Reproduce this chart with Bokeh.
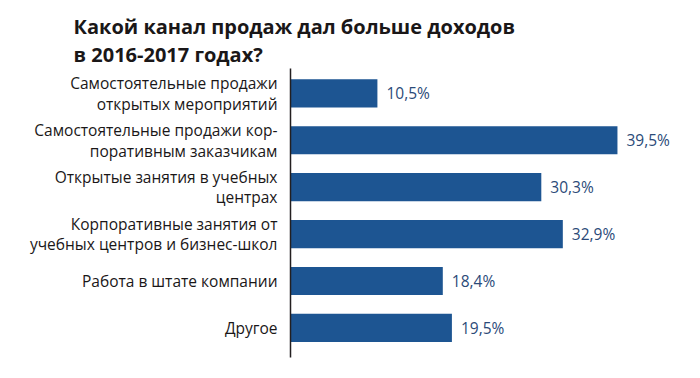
from bokeh.plotting import figure
from bokeh.models import Range1d, FixedTicker, ColumnDataSource
from bokeh.core.properties import value
from bokeh.embed import file_html
from bokeh.resources import INLINE

# ---- data ----
categories = [
    "Самостоятельные продажи\nоткрытых мероприятий",
    "Самостоятельные продажи кор-\nпоративным заказчикам",
    "Открытые занятия в учебных\nцентрах",
    "Корпоративные занятия от\nучебных центров и бизнес-школ",
    "Работа в штате компании",
    "Другое",
]
values = [10.5, 39.5, 30.3, 32.9, 18.4, 19.5]
value_labels = ["10,5%", "39,5%", "30,3%", "32,9%", "18,4%", "19,5%"]
title_text = "Какой канал продаж дал больше доходов\nв 2016-2017 годах?"

FONT = "Open Sans"
BAR = "#1d5592"
TXT = "#1a1718"
VAL = "#2b4a78"

pos = list(range(len(categories)))
src = ColumnDataSource(dict(y=pos, v=values, lab=value_labels))

p = figure(width=684, height=362, output_backend="svg", toolbar_location=None,
           x_range=Range1d(0, 47.6), y_range=Range1d(5.63, -0.53),
           min_border_left=290, min_border_right=0, min_border_bottom=5,
           min_border_top=68, outline_line_color=None, background_fill_color="white",
           border_fill_color="white")

p.hbar(y="y", right="v", left=0, height=0.6, source=src, fill_color=BAR,
       line_color=None)
p.text(x="v", y="y", text="lab", source=src, x_offset=9,
       text_font=value(FONT), text_font_size="15.5px", text_color=VAL,
       text_baseline="middle", text_align="left")

p.xaxis.visible = False
p.xgrid.visible = False
p.ygrid.visible = False

ya = p.yaxis[0]
ya.ticker = FixedTicker(ticks=pos)
ya.major_label_overrides = {i: c for i, c in enumerate(categories)}
ya.major_tick_line_color = None
ya.minor_tick_line_color = None
ya.major_tick_out = 0
ya.major_tick_in = 0
ya.major_label_standoff = 13
ya.major_label_text_font = FONT
ya.major_label_text_font_size = "15.5px"
ya.major_label_text_color = TXT
ya.major_label_text_align = "right"
ya.major_label_text_line_height = 0.93
ya.axis_line_color = "#231f20"
ya.axis_line_width = 1.5

p.title.text = title_text
p.title.text_font = FONT
p.title.text_font_size = "20px"
p.title.text_font_style = "bold"
p.title.text_color = TXT
p.title.text_line_height = 1.05
p.title.align = "left"
p.title.offset = -217
p.title.standoff = 1

open("out.html", "w").write(file_html(p, INLINE))
